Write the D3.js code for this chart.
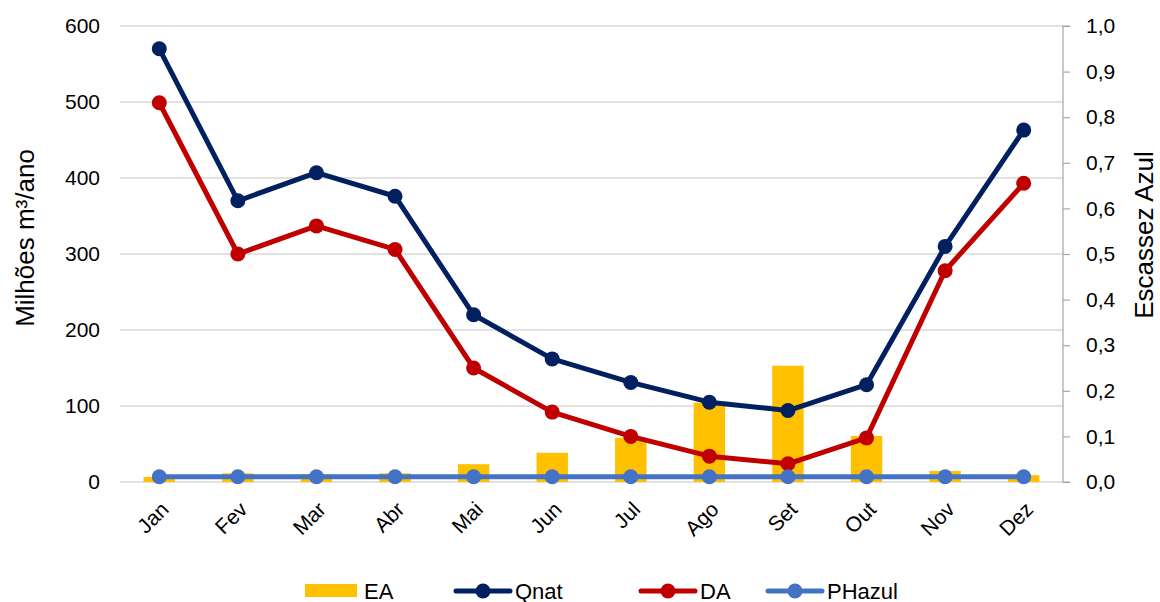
<!DOCTYPE html>
<html>
<head>
<meta charset="utf-8">
<script src="https://cdn.jsdelivr.net/npm/d3@7"></script>
<style>
  html, body { margin: 0; padding: 0; background: #fff; }
  svg text { font-family: "Liberation Sans", Arial, sans-serif; fill: #000; }
</style>
</head>
<body>
<svg id="chart" width="1160" height="602"></svg>
<script>
// Monthly series
const months = ["Jan", "Fev", "Mar", "Abr", "Mai", "Jun", "Jul", "Ago", "Set", "Out", "Nov", "Dez"];
const qnat   = [570, 370, 407, 376, 220, 162, 131, 105, 94, 128, 310, 463];   // milhões m³/ano
const da     = [499, 300, 337, 306, 150, 92, 60, 34, 24, 58, 278, 393];      // milhões m³/ano
const phazul = [7, 7, 7, 7, 7, 7, 7, 7, 7, 7, 7, 7];                         // milhões m³/ano
const ea     = [0.011, 0.019, 0.017, 0.019, 0.039, 0.064, 0.097, 0.174, 0.255, 0.101, 0.024, 0.015]; // escassez azul

const leftTicks  = [0, 100, 200, 300, 400, 500, 600];
const rightTicks = [0, 0.1, 0.2, 0.3, 0.4, 0.5, 0.6, 0.7, 0.8, 0.9, 1.0];

const colors = { ea: "#FFC000", qnat: "#002060", da: "#C00000", phazul: "#4472C4" };

const svg = d3.select("#chart");
const plot = { left: 120, right: 1063, top: 26, bottom: 482 };

const x = d3.scaleBand().domain(months).range([plot.left, plot.right]).paddingInner(0.6).paddingOuter(0.3);
const xc = d => x(d) + x.bandwidth() / 2;
const yL = d3.scaleLinear().domain([0, 600]).range([plot.bottom, plot.top]);
const yR = d3.scaleLinear().domain([0, 1]).range([plot.bottom, plot.top]);

// Horizontal gridlines
svg.append("g").selectAll("line").data(leftTicks).join("line")
  .attr("x1", plot.left).attr("x2", plot.right)
  .attr("y1", d => yL(d)).attr("y2", d => yL(d))
  .attr("stroke", "#d9d9d9").attr("stroke-width", 1.5);

// Left axis labels
const leftAxis = d3.axisLeft(yL).tickValues(leftTicks).tickSize(0).tickPadding(20);
const gL = svg.append("g").attr("transform", `translate(${plot.left},0)`).call(leftAxis);
gL.select(".domain").remove();
gL.selectAll("text").attr("font-size", 21).attr("font-family", "Liberation Sans, Arial, sans-serif");

// Right axis
const fmt = d => d3.format(".1f")(d).replace(".", ",");
const rightAxis = d3.axisRight(yR).tickValues(rightTicks).tickFormat(fmt).tickSize(7).tickPadding(16);
const gR = svg.append("g").attr("transform", `translate(${plot.right},0)`).call(rightAxis);
gR.select(".domain").attr("stroke", "#a6a6a6").attr("stroke-width", 1.2).attr("d", `M7,${plot.top}H0V${plot.bottom}H7`);
gR.selectAll(".tick line").attr("stroke", "#a6a6a6").attr("stroke-width", 1.2);
gR.selectAll("text").attr("font-size", 21).attr("font-family", "Liberation Sans, Arial, sans-serif");

// EA bars (right axis)
svg.append("g").selectAll("rect").data(ea).join("rect")
  .attr("x", (d, i) => x(months[i]))
  .attr("width", x.bandwidth())
  .attr("y", d => yR(d))
  .attr("height", d => yR(0) - yR(d))
  .attr("fill", colors.ea);

// Category axis labels
const gX = svg.append("g");
gX.selectAll("text").data(months).join("text")
  .attr("transform", d => `translate(${xc(d)},${plot.bottom + 18}) rotate(-45)`)
  .attr("text-anchor", "end")
  .attr("dominant-baseline", "hanging")
  .attr("font-size", 21)
  .text(d => d);

// Line series with circular markers
function drawSeries(values, scale, color) {
  const line = d3.line().x((d, i) => xc(months[i])).y(d => scale(d));
  svg.append("path").datum(values)
    .attr("d", line).attr("fill", "none")
    .attr("stroke", color).attr("stroke-width", 5)
    .attr("stroke-linejoin", "round").attr("stroke-linecap", "round");
  svg.append("g").selectAll("circle").data(values).join("circle")
    .attr("cx", (d, i) => xc(months[i])).attr("cy", d => scale(d))
    .attr("r", 7.5).attr("fill", color);
}
drawSeries(qnat, yL, colors.qnat);
drawSeries(da, yL, colors.da);
drawSeries(phazul, yL, colors.phazul);

// Axis titles
svg.append("text")
  .attr("transform", `translate(34,238) rotate(-90)`)
  .attr("text-anchor", "middle").attr("font-size", 26)
  .text("Milhões m³/ano");
svg.append("text")
  .attr("transform", `translate(1153,235) rotate(-90)`)
  .attr("text-anchor", "middle").attr("font-size", 26)
  .text("Escassez Azul");

// Legend
const legend = svg.append("g");
const ly = 591;
legend.append("rect").attr("x", 305).attr("y", ly - 7).attr("width", 52).attr("height", 13).attr("fill", colors.ea);
legend.append("text").attr("x", 364).attr("y", ly).attr("dominant-baseline", "central").attr("font-size", 22).text("EA");
const lineItems = [
  { name: "Qnat", color: colors.qnat, x0: 456 },
  { name: "DA", color: colors.da, x0: 641 },
  { name: "PHazul", color: colors.phazul, x0: 768 }
];
lineItems.forEach(it => {
  legend.append("line").attr("x1", it.x0).attr("x2", it.x0 + 54).attr("y1", ly).attr("y2", ly)
    .attr("stroke", it.color).attr("stroke-width", 5).attr("stroke-linecap", "round");
  legend.append("circle").attr("cx", it.x0 + 27).attr("cy", ly).attr("r", 7.5).attr("fill", it.color);
  legend.append("text").attr("x", it.x0 + 59).attr("y", ly).attr("dominant-baseline", "central")
    .attr("font-size", 22).text(it.name);
});
</script>
</body>
</html>
